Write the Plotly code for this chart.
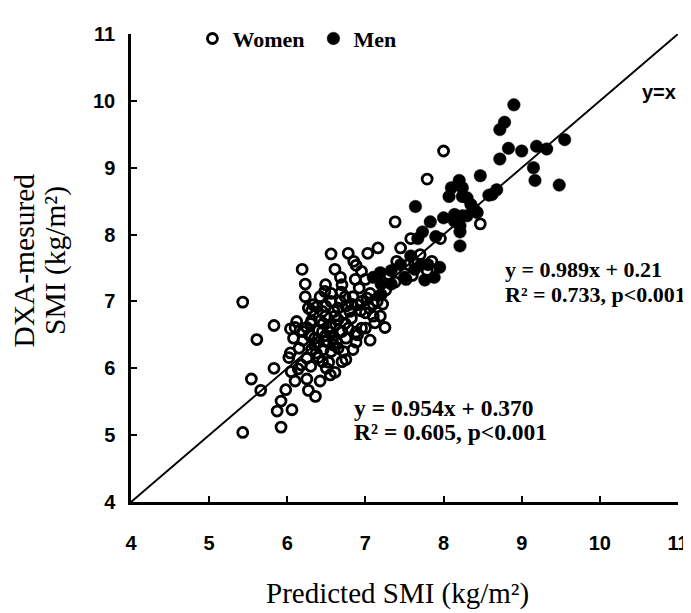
import plotly.graph_objects as go

# ---- data ----
women_x = [5.43, 5.92, 5.43, 5.83, 5.61, 5.83, 5.54, 5.66, 5.92, 5.87, 6.06, 5.98, 6.10, 6.25, 6.42,
           6.27, 6.36, 6.14, 6.30, 6.04, 6.08, 6.20, 6.04, 6.40, 6.31, 6.49, 6.23, 6.42, 6.56, 6.55,
           6.59, 6.46, 6.53, 6.61, 6.31, 6.56, 6.78, 7.03, 6.19, 6.61, 6.88, 6.68, 6.87, 7.00, 6.23,
           6.49, 6.56, 6.69, 6.84, 6.27, 6.49, 6.61, 6.75, 6.94, 7.10, 6.10, 6.30, 6.42, 6.74, 6.49,
           6.63, 6.88, 7.06, 6.37, 6.56, 6.72, 6.02, 7.38, 7.16, 7.45, 6.74, 7.06, 7.26, 7.38, 7.63,
           7.60, 7.79, 7.52, 7.58, 7.96, 8.47, 7.10, 7.22, 7.00, 7.19, 7.12, 7.25, 6.88, 6.75, 6.65,
           6.84, 6.40, 6.25, 6.46, 6.65, 6.82, 6.31, 6.65, 6.82, 6.40, 6.75, 7.79, 8.00, 6.35, 6.45,
           6.55, 6.60, 6.70, 6.38, 6.15, 6.25, 6.50, 6.68, 6.95, 6.95, 6.20, 6.45, 6.55,
           6.12, 6.28, 6.33, 6.48, 6.58, 6.62, 6.78, 6.80, 6.90, 6.92, 7.02, 7.05, 6.70, 6.45,
           6.35, 6.18, 6.05, 6.50, 6.70, 6.90, 7.00, 7.15, 7.30, 7.40, 7.55, 7.70, 7.85, 6.95, 6.85]
women_y = [5.04, 5.12, 6.99, 6.64, 6.43, 6.00, 5.84, 5.67, 5.51, 5.36, 5.38, 5.68, 5.81, 5.84, 5.81,
           5.67, 5.58, 5.99, 6.03, 6.59, 6.45, 6.42, 6.23, 6.57, 6.71, 6.78, 7.07, 7.07, 7.00, 6.54,
           6.35, 6.28, 6.09, 5.94, 6.28, 7.71, 7.72, 7.72, 7.48, 7.48, 7.54, 7.36, 7.33, 7.33, 7.26,
           7.25, 7.12, 7.14, 7.07, 6.90, 6.93, 6.78, 6.93, 6.86, 6.78, 6.61, 6.67, 6.71, 6.67, 6.49,
           6.39, 6.39, 6.42, 6.23, 6.25, 6.25, 6.16, 8.19, 7.80, 7.80, 7.07, 7.12, 7.17, 7.29, 7.58,
           7.39, 7.46, 7.33, 7.94, 7.94, 8.16, 6.96, 6.96, 6.83, 6.78, 6.68, 6.61, 6.54, 6.45, 6.30,
           6.28, 6.39, 6.61, 6.67, 6.73, 6.75, 6.86, 6.90, 6.96, 6.16, 6.13, 8.83, 9.25, 6.45, 6.55,
           6.62, 6.85, 6.55, 6.92, 6.30, 6.15, 6.40, 7.00, 7.00, 6.60, 6.55, 6.10, 5.90,
           6.70, 6.50, 6.95, 7.15, 6.45, 6.65, 6.60, 6.85, 6.95, 7.20, 7.05, 6.90, 7.25, 6.85,
           6.35, 6.05, 5.95, 6.00, 6.10, 6.50, 6.60, 7.00, 7.40, 7.60, 7.55, 7.70, 7.60, 7.45, 7.60]

men_x = [7.64, 8.07, 8.24, 8.58, 8.14, 8.30, 8.21, 8.39, 8.21, 7.83, 7.73, 7.67, 7.90, 7.19, 7.20,
         7.10, 7.33, 7.33, 7.63, 7.71, 7.76, 7.88, 7.95, 7.50, 7.58, 8.90, 8.78, 8.72, 8.83, 8.72,
         9.00, 9.19, 9.32, 9.55, 9.15, 9.17, 9.48, 8.47, 8.20, 8.24, 8.30, 8.68, 8.43, 8.24, 8.14,
         8.21, 7.20, 7.45, 8.00, 8.35, 8.10, 7.80, 8.62]
men_y = [8.42, 8.57, 8.57, 8.59, 8.30, 8.28, 8.13, 8.38, 7.83, 8.19, 8.04, 7.94, 7.97, 7.43, 7.26,
         7.36, 7.46, 7.26, 7.48, 7.55, 7.32, 7.36, 7.51, 7.36, 7.68, 9.94, 9.68, 9.57, 9.29, 9.13,
         9.25, 9.32, 9.28, 9.42, 9.00, 8.81, 8.74, 8.88, 8.81, 8.70, 8.55, 8.67, 8.33, 8.28, 8.20,
         8.04, 7.10, 7.55, 8.25, 8.45, 8.70, 7.55, 8.60]

identity_line = [4, 11]
tick_values = [4, 5, 6, 7, 8, 9, 10, 11]

serif = "Liberation Serif"
sans = "Liberation Sans"

fig = go.Figure()
fig.add_trace(go.Scatter(x=identity_line, y=identity_line, mode="lines",
                         line=dict(color="black", width=2), showlegend=False, hoverinfo="skip"))
fig.add_trace(go.Scatter(x=women_x, y=women_y, mode="markers", name="Women",
                         marker=dict(symbol="circle-open", size=10, color="black",
                                     line=dict(width=2.8, color="black"))))
fig.add_trace(go.Scatter(x=men_x, y=men_y, mode="markers", name="Men",
                         marker=dict(symbol="circle", size=12.5, color="black",
                                     line=dict(width=0.5, color="black"))))

axis_common = dict(range=[4, 11], tickvals=tick_values, ticks="inside", ticklen=6, tickwidth=2,
                   tickcolor="black", showline=True, linewidth=2.5, linecolor="black",
                   showgrid=False, zeroline=False, ticklabeloverflow="allow",
                   tickfont=dict(family=sans, size=20, color="black", weight="bold"))

# the page body keeps its default 8px margin, so the plot area is laid out 8px up/left
fig.update_layout(
    width=691, height=613, autosize=False,
    margin=dict(l=123, r=16, t=10, b=119),
    paper_bgcolor="white", plot_bgcolor="white",
    xaxis=dict(**axis_common, ticklabelstandoff=21),
    yaxis=dict(**axis_common, ticklabelstandoff=9),
    showlegend=True,
    legend=dict(orientation="h", x=0.1123, y=0.99, xanchor="left", yanchor="middle",
                font=dict(family=serif, size=22, color="black", weight="bold"),
                itemwidth=30, entrywidth=76, bgcolor="rgba(0,0,0,0)"),
)

women_font = dict(family=serif, size=23.5, color="black", weight="bold")
men_font = dict(family=serif, size=22, color="black", weight="bold")
annotations = [
    dict(text="y = 0.954x + 0.370", x=0.4035, y=0.2004, xanchor="left", yanchor="middle", font=women_font),
    dict(text="R² = 0.605, p<0.001", x=0.4035, y=0.1488, xanchor="left", yanchor="middle", font=women_font),
    dict(text="y = 0.989x + 0.21", x=0.6792, y=0.497, xanchor="left", yanchor="middle", font=men_font),
    dict(text="R² = 0.733, p<0.001", x=0.6792, y=0.444, xanchor="left", yanchor="middle", font=men_font),
    dict(text="y=x", x=0.9656, y=0.876, xanchor="center", yanchor="middle",
         font=dict(family=sans, size=20, color="black", weight="bold")),
    dict(text="Predicted SMI (kg/m²)", x=0.487, y=-0.196, xanchor="center", yanchor="middle",
         font=dict(family=serif, size=29, color="black")),
    dict(text="DXA-mesured", x=-0.195, y=0.5165, xanchor="center", yanchor="middle", textangle=-90,
         font=dict(family=serif, size=29.5, color="black")),
    dict(text="SMI (kg/m²)", x=-0.1377, y=0.5165, xanchor="center", yanchor="middle", textangle=-90,
         font=dict(family=serif, size=29.5, color="black")),
]
for a in annotations:
    a.update(xref="paper", yref="paper", showarrow=False)
fig.update_layout(annotations=annotations)

fig.write_html("out.html", config={"displayModeBar": False})
